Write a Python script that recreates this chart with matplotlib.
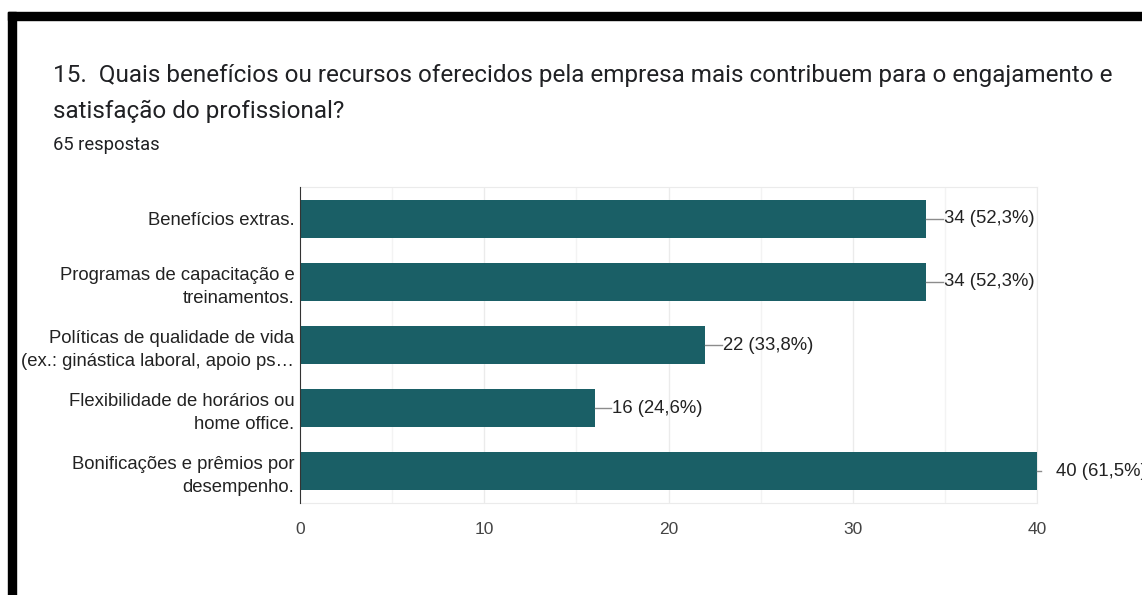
import matplotlib.pyplot as plt
from matplotlib.patches import Rectangle

# Survey answers (question 15)
categories = [
    "Benefícios extras.",
    "Programas de capacitação e\ntreinamentos.",
    "Políticas de qualidade de vida\n(ex.: ginástica laboral, apoio ps…",
    "Flexibilidade de horários ou\nhome office.",
    "Bonificações e prêmios por\ndesempenho.",
]
counts = [34, 34, 22, 16, 40]
percents = ["52,3%", "52,3%", "33,8%", "24,6%", "61,5%"]
x_ticks = [0, 10, 20, 30, 40]

title_lines = [
    "15.  Quais benefícios ou recursos oferecidos pela empresa mais contribuem para o engajamento e",
    "satisfação do profissional?",
]
subtitle = "65 respostas"

W, H = 1142, 595
fig = plt.figure(figsize=(W / 100, H / 100), dpi=100)
fig.patch.set_facecolor("white")

# black frame on the top and left
fig.patches.append(Rectangle((8 / W, 0), 8 / W, 1 - 12 / H, transform=fig.transFigure,
                             color="black", zorder=0))
fig.patches.append(Rectangle((8 / W, 1 - 20 / H), 1 - 8 / W, 8 / H, transform=fig.transFigure,
                             color="black", zorder=0))

for i, line in enumerate(title_lines):
    fig.text(53 / W, 1 - (82 + 36 * i) / H, line, fontsize=17.45, family="Roboto",
             color="#202124", va="baseline")
fig.text(53 / W, 1 - 150 / H, subtitle, fontsize=13.2, family="Roboto", color="#202124",
         va="baseline")

ax = fig.add_axes([300 / W, 1 - 503 / H, (1037 - 300) / W, (503 - 187) / H])
ypos = list(range(len(categories)))
ax.barh(ypos, counts, height=0.6, color="#1a5f66", zorder=3)
ax.set_xlim(0, 40)
ax.set_ylim(len(categories) - 0.5, -0.5)

# grid lines every 5
for v in range(5, 41, 5):
    ax.axvline(v, color="#ebebeb" if v % 10 == 0 else "#f3f3f3", lw=1, zorder=1)
for side in ["top", "bottom", "right"]:
    ax.spines[side].set_color("#ebebeb")
ax.spines["left"].set_color("#333333")
ax.spines["left"].set_zorder(4)

ax.set_xticks(x_ticks)
ax.set_xticklabels([str(t) for t in x_ticks], fontsize=12.5, family="Liberation Sans", color="#444444")
ax.tick_params(axis="x", length=0, pad=14)
ax.set_yticks(ypos)
ax.set_yticklabels(categories, fontsize=13.3, family="Liberation Sans", color="#222222",
                   linespacing=1.45)
ax.tick_params(axis="y", length=0, pad=4)

# value labels with leader lines
for y, c, p in zip(ypos, counts, percents):
    if c < 40:
        ax.plot([c, c + 0.9], [y, y], color="#8c8c8c", lw=1, zorder=3, clip_on=False)
        ax.text(c + 0.95, y, f"{c} ({p})", va="center", ha="left", fontsize=13.3,
                family="Liberation Sans", color="#222222")
    else:
        ax.plot([c, c + 0.2], [y, y], color="#8c8c8c", lw=1, zorder=3, clip_on=False)
        ax.text(c + 1.03, y, f"{c} ({p})", va="center", ha="left", fontsize=13.3,
                family="Liberation Sans", color="#222222", clip_on=False)

fig.savefig("out.png", dpi=100)
